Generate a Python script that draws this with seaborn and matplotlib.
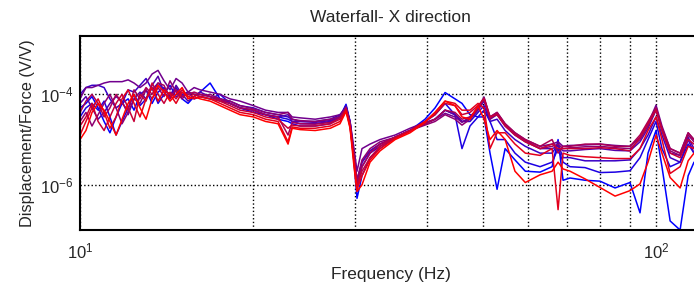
import matplotlib
matplotlib.use("Agg")
import matplotlib.pyplot as plt
import matplotlib.ticker as mticker
import numpy as np
import pandas as pd
import seaborn as sns

# Frequency points (Hz), shared by all runs
freq = [10.0, 10.24, 10.49, 10.75, 11.01, 11.27, 11.55, 11.83, 12.12, 12.41,
        12.71, 13.02, 13.34, 13.66, 13.99, 14.33, 14.68, 15.04, 15.40, 15.78,
        16.16, 16.82, 17.50, 18.21, 18.96,
        20.0, 21.0, 22.07, 22.97, 23.35, 24.1, 25.6, 27.2,
        28.27, 28.96, 29.43, 29.9, 30.26, 30.87, 31.88, 33.18, 35.24, 37.41, 39.72, 41.34,
        43.03, 44.77, 46.04, 47.54, 49.09, 50.28, 51.5, 52.97,
        54.7, 56.9, 59.3, 62.9, 66.0, 67.6, 68.96, 70.9, 75.3, 79.95, 84.9, 90.1,
        93.8, 96.85, 100.0, 102.4, 105.8, 110.1, 113.7, 116.4]

# log10 of displacement/force for each run (blue -> red)
r1 = [-4.3, -4.2, -4.05, -4.3, -4.6, -4.85, -4.5, -4.2, -4.1, -4.35,
      -4.0, -3.9, -4.2, -3.95, -3.85, -4.05, -3.9, -4.1, -4.2, -4.05,
      -3.95, -3.75, -4.1, -4.2, -4.3,
      -4.4, -4.45, -4.55, -4.6, -4.65, -4.7, -4.7, -4.65,
      -4.5, -4.22, -4.6, -5.5, -6.3, -5.8, -5.4, -5.2, -4.95, -4.8, -4.55, -4.3,
      -3.96, -4.1, -4.2, -4.45, -4.5, -4.5, -5.3, -6.1,
      -5.2, -5.45, -5.7, -5.72, -5.6, -5.0, -5.9, -5.85, -5.9, -5.92, -6.07, -5.95,
      -6.62, -5.3, -4.8, -5.6, -6.8, -7.0, -5.8, -5.5]
r2 = [-4.5, -4.3, -4.2, -4.35, -4.15, -4.5, -4.9, -4.6, -4.3, -4.0,
      -4.25, -4.1, -3.85, -4.2, -4.0, -3.8, -4.05, -4.0, -3.95, -4.1,
      -4.05, -4.1, -4.0, -4.2, -4.3,
      -4.35, -4.45, -4.5, -4.55, -4.6, -4.65, -4.65, -4.6,
      -4.5, -4.25, -4.65, -5.4, -6.1, -5.6, -5.3, -5.15, -4.95, -4.8, -4.6, -4.45,
      -4.2, -4.45, -5.2, -4.7, -4.5, -4.35, -4.6, -5.0,
      -5.0, -5.3, -5.5, -5.6, -5.5, -5.2, -5.5, -5.6, -5.62, -5.73, -5.72, -5.69,
      -5.4, -5.0, -4.6, -5.2, -5.6, -5.5, -5.1, -5.3]
r3 = [-4.0, -3.85, -3.8, -3.8, -3.85, -4.1, -4.3, -4.2, -3.9, -3.95,
      -3.8, -3.65, -3.9, -3.75, -3.9, -4.0, -3.85, -4.05, -3.95, -4.0,
      -4.0, -4.05, -4.1, -4.15, -4.25,
      -4.3, -4.4, -4.45, -4.5, -4.55, -4.6, -4.6, -4.55,
      -4.45, -4.28, -4.6, -5.3, -5.9, -5.5, -5.25, -5.1, -4.95, -4.8, -4.65, -4.55,
      -4.35, -4.45, -4.6, -4.6, -4.4, -4.25, -4.6, -4.55,
      -4.8, -5.0, -5.15, -5.3, -5.3, -5.1, -5.4, -5.4, -5.47, -5.47, -5.47, -5.45,
      -5.2, -4.9, -4.5, -4.9, -5.4, -5.5, -5.0, -5.3]
r4 = [-4.2, -4.05, -4.3, -4.55, -4.4, -4.2, -4.05, -4.15, -4.45, -4.1,
      -3.95, -4.1, -3.8, -3.6, -3.95, -4.1, -3.8, -4.0, -4.15, -4.05,
      -3.95, -4.05, -4.15, -4.2, -4.3,
      -4.35, -4.45, -4.5, -4.45, -4.6, -4.6, -4.62, -4.58,
      -4.48, -4.26, -4.62, -5.4, -6.0, -5.5, -5.25, -5.1, -4.95, -4.8, -4.65, -4.55,
      -4.35, -4.45, -4.6, -4.55, -4.35, -4.15, -4.55, -4.45,
      -4.7, -4.9, -5.05, -5.2, -5.2, -5.15, -5.25, -5.25, -5.22, -5.2, -5.24, -5.25,
      -5.05, -4.75, -4.35, -4.8, -5.3, -5.35, -4.95, -5.2]
r5 = [-4.1, -3.85, -3.85, -3.8, -3.75, -3.72, -3.72, -3.72, -3.68, -3.75,
      -3.85, -3.75, -3.55, -3.47, -3.7, -3.9, -3.65, -3.75, -3.95, -3.85,
      -3.9, -3.95, -4.0, -4.1, -4.15,
      -4.25, -4.35, -4.4, -4.4, -4.5, -4.52, -4.55, -4.5,
      -4.45, -4.3, -4.6, -5.2, -5.7, -5.2, -5.1, -5.0, -4.9, -4.75, -4.62, -4.55,
      -4.42, -4.5, -4.62, -4.5, -4.3, -4.06, -4.5, -4.4,
      -4.65, -4.85, -5.0, -5.15, -5.1, -5.05, -5.15, -5.13, -5.12, -5.1, -5.13, -5.15,
      -4.95, -4.65, -4.24, -4.7, -5.2, -5.3, -4.85, -5.0]
r6 = [-4.6, -4.4, -4.7, -4.45, -4.2, -4.0, -4.3, -4.65, -4.4, -4.1,
      -4.2, -3.9, -4.1, -3.85, -4.05, -3.7, -3.95, -4.1, -3.95, -4.0,
      -4.05, -4.0, -4.1, -4.15, -4.25,
      -4.32, -4.4, -4.45, -4.4, -4.55, -4.58, -4.6, -4.55,
      -4.5, -4.3, -4.65, -5.35, -5.9, -5.45, -5.2, -5.05, -4.95, -4.8, -4.68, -4.6,
      -4.45, -4.55, -4.68, -4.55, -4.32, -4.1, -4.55, -4.42,
      -4.68, -4.88, -5.02, -5.2, -5.15, -5.1, -5.2, -5.18, -5.16, -5.15, -5.18, -5.2,
      -5.0, -4.7, -4.3, -4.75, -5.25, -5.35, -4.9, -5.05]
r7 = [-4.4, -4.15, -4.0, -4.2, -4.5, -4.3, -4.0, -4.2, -4.35, -3.9,
      -4.1, -3.85, -4.0, -3.75, -3.8, -4.1, -3.9, -4.05, -4.0, -3.95,
      -4.0, -4.05, -4.12, -4.2, -4.3,
      -4.35, -4.45, -4.5, -4.9, -4.62, -4.65, -4.66, -4.62,
      -4.52, -4.3, -4.68, -5.4, -6.0, -5.6, -5.3, -5.1, -4.95, -4.8, -4.65, -4.55,
      -4.35, -4.4, -4.55, -4.5, -4.3, -4.08, -4.5, -4.4,
      -4.65, -4.85, -5.0, -5.15, -5.0, -5.3, -5.15, -5.15, -5.1, -5.1, -5.15, -5.15,
      -4.9, -4.6, -4.3, -4.75, -5.2, -5.3, -4.85, -5.0]
r8 = [-4.7, -4.5, -4.2, -4.6, -4.8, -4.5, -4.2, -4.0, -4.3, -4.6,
      -4.0, -4.15, -3.75, -4.0, -4.2, -3.95, -4.1, -3.9, -4.05, -4.0,
      -4.05, -4.1, -4.15, -4.25, -4.35,
      -4.4, -4.5, -4.55, -4.75, -4.68, -4.7, -4.7, -4.65,
      -4.55, -4.33, -4.7, -5.45, -6.05, -5.7, -5.4, -5.15, -4.95, -4.8, -4.6, -4.45,
      -4.2, -4.25, -4.45, -4.4, -4.25, -4.1, -4.5, -4.45,
      -4.7, -4.9, -5.05, -5.2, -5.1, -5.2, -5.2, -5.2, -5.2, -5.18, -5.2, -5.25,
      -4.95, -4.65, -4.35, -4.8, -5.3, -5.4, -5.0, -5.1]
r9 = [-4.9, -4.6, -4.3, -4.1, -4.4, -4.75, -4.5, -4.1, -3.9, -4.2,
      -4.5, -4.1, -3.85, -4.15, -3.9, -4.0, -4.2, -3.95, -4.05, -4.1,
      -4.05, -4.1, -4.2, -4.3, -4.4,
      -4.45, -4.55, -4.6, -5.05, -4.72, -4.75, -4.75, -4.7,
      -4.6, -4.35, -4.72, -5.5, -6.1, -5.8, -5.45, -5.2, -4.98, -4.82, -4.6, -4.4,
      -4.15, -4.2, -4.35, -4.35, -4.2, -4.3, -5.2, -4.85,
      -4.85, -5.1, -5.3, -5.35, -5.2, -6.55, -5.3, -5.35, -5.38, -5.4, -5.42, -5.42,
      -5.2, -4.8, -4.5, -5.0, -5.75, -5.6, -5.15, -5.2]
r10 = [-5.0, -4.8, -4.4, -4.2, -4.35, -4.6, -4.9, -4.55, -4.2, -4.0,
       -4.3, -4.55, -4.1, -3.8, -3.95, -4.15, -4.0, -3.85, -4.1, -4.05,
       -4.1, -4.15, -4.25, -4.35, -4.45,
       -4.5, -4.6, -4.65, -5.1, -4.75, -4.78, -4.8, -4.75,
       -4.65, -4.38, -4.75, -5.6, -6.15, -6.0, -5.5, -5.25, -5.0, -4.85, -4.62, -4.4,
       -4.15, -4.25, -4.5, -4.55, -4.25, -4.55, -5.0, -4.8,
       -5.0, -5.7, -5.95, -5.78, -5.7, -5.5, -5.65, -5.7, -5.87, -6.06, -6.25, -6.13,
       -5.98, -5.5, -4.9, -5.3, -5.84, -6.07, -5.47, -5.3]

runs = [r1, r2, r3, r4, r5, r6, r7, r8, r9, r10]

df = pd.concat([pd.DataFrame({'freq': freq, 'mag': 10.0 ** np.array(r), 'run': i})
                for i, r in enumerate(runs)], ignore_index=True)

sns.set_style("white")
plt.rcParams['font.family'] = ['Liberation Sans', 'DejaVu Sans']
plt.rcParams['mathtext.default'] = 'regular'

fig = plt.figure(figsize=(6.94, 2.91), dpi=100)
ax = fig.add_axes([0.1153, 0.2096, 0.8957, 0.6667])

palette = sns.blend_palette(['#0000ff', '#ff0000'], len(runs))
sns.lineplot(data=df, x='freq', y='mag', hue='run', palette=palette, estimator=None,
             sort=False, legend=False, linewidth=1.1, ax=ax)

ax.set_xscale('log')
ax.set_yscale('log')
ax.set_xlim(10, 120)
ax.set_ylim(1e-7, 1.95e-3)

ax.set_yticks([1e-6, 1e-4])
ax.yaxis.set_minor_locator(mticker.NullLocator())
ax.xaxis.set_minor_locator(mticker.LogLocator(base=10, subs=np.arange(2, 10)))
ax.xaxis.set_minor_formatter(mticker.NullFormatter())

ax.grid(True, which='both', axis='x', color='black', linestyle=':', linewidth=1.0)
ax.grid(True, which='major', axis='y', color='black', linestyle=':', linewidth=1.0)
ax.set_axisbelow(True)

for s in ax.spines.values():
    s.set_color('black')
    s.set_linewidth(1.5)

ax.tick_params(which='both', direction='in', color='black', labelsize=12)
ax.tick_params(which='major', length=4, width=1)
ax.tick_params(which='minor', length=3, width=1)
ax.tick_params(axis='x', pad=8)
ax.tick_params(axis='y', pad=5)

ax.set_title('Waterfall- X direction', fontsize=12.5, pad=10)
ax.set_xlabel('Frequency (Hz)', fontsize=12.5)
ax.set_ylabel('Displacement/Force (V/V)', fontsize=11.8, labelpad=3)
ax.xaxis.set_label_coords(0.5, -0.19)

fig.savefig('out.png', dpi=100)
